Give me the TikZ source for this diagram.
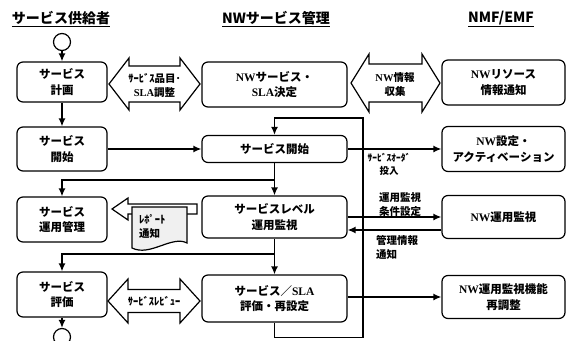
\documentclass[tikz,border=0pt]{standalone}
\usepackage{fontspec}
\setmainfont{Noto Sans CJK JP}
\newfontfamily\enfont{Liberation Serif}
\newcommand{\en}[1]{{\enfont #1}}
\usetikzlibrary{arrows.meta}

\tikzset{
  proc/.style={draw, rounded corners=6pt, line width=1.2pt, fill=white, align=center,
    inner sep=0pt, font=\bfseries\fontsize{11.5}{15.5}\selectfont},
  lbox/.style={proc, minimum width=90pt},
  mbox/.style={proc, minimum width=145pt},
  rbox/.style={proc, minimum width=123pt},
  flow/.style={->, line width=1.5pt},
  fat/.style={draw, line width=1.2pt, fill=white, line join=miter},
  lbl/.style={font=\bfseries\fontsize{10.5}{14}\selectfont, align=center, inner sep=0pt},
  coltitle/.style={font=\bfseries\fontsize{14}{16}\selectfont, inner sep=0pt},
  term/.style={circle, draw, line width=1.2pt, minimum size=17pt, inner sep=0pt}
}

\begin{document}
\begin{tikzpicture}[x=1pt,y=-1pt,>={Latex[length=8pt,width=7pt]}]
  \useasboundingbox (0,0) rectangle (567,340);

  % column titles
  \node[coltitle] (tsup) at (61,19) {\underline{サービス供給者}};
  \node[coltitle] (tmgr) at (276,19) {\underline{NWサービス管理}};
  \node[coltitle] (tnmf) at (501,19) {\underline{NMF/EMF}};

  % service provider
  \node[term] (startc) at (62,42) {};
  \node[lbox, minimum height=40pt] (plan) at (62,82) {サービス\\計画};
  \node[lbox, minimum height=44pt] (begin) at (62,149) {サービス\\開始};
  \node[lbox, minimum height=45pt] (ops) at (62,219.5) {サービス\\運用管理};
  \node[lbox, minimum height=45pt] (eval) at (62,294.5) {サービス\\評価};
  \node[term] (endc) at (62,337) {};

  % nw service management
  \node[mbox, minimum height=45pt] (m1) at (274.5,84.5) {\en{NW}サービス・\\\en{SLA}決定};
  \node[mbox, minimum height=27pt] (m2) at (274.5,149) {サービス開始};
  \node[mbox, minimum height=42pt] (m3) at (274.5,217) {サービスレベル\\運用監視};
  \node[mbox, minimum height=47pt] (m4) at (274.5,298.5) {サービス／\en{SLA}\\評価・再設定};

  % nmf/emf
  \node[rbox, minimum height=45pt] (r1) at (503.5,82.5) {\en{NW}リソース\\情報通知};
  \node[rbox, minimum height=45pt] (r2) at (503.5,149) {\en{NW}設定・\\アクティベーション};
  \node[rbox, minimum height=43pt] (r3) at (503.5,217) {\en{NW}運用監視};
  \node[rbox, minimum height=43pt] (r4) at (503.5,297) {\en{NW}運用監視機能\\再調整};

  % fat double arrows
  \draw[fat] (109,84) -- (129,58) -- (129,66) -- (180,66) -- (180,58) -- (200,84)
    -- (180,110) -- (180,102) -- (129,102) -- (129,110) -- cycle;
  \node[lbl] (adj) at (154.5,85) {ｻｰﾋﾞｽ品目･\\\en{SLA}調整};
  \draw[fat] (351,83) -- (369,54) -- (369,64) -- (422,64) -- (422,54) -- (440,83)
    -- (422,112) -- (422,102) -- (369,102) -- (369,112) -- cycle;
  \node[lbl] (collect) at (395,85) {\en{NW}情報\\収集};
  \draw[fat] (108,301) -- (128,279) -- (128,289.5) -- (180,289.5) -- (180,279) -- (200,301)
    -- (180,323) -- (180,312.5) -- (128,312.5) -- (128,323) -- cycle;
  \node[lbl] (review) at (154,301) {ｻｰﾋﾞｽﾚﾋﾞｭｰ};

  % report
  \draw[fat] (112,209) -- (128,198) -- (128,204) -- (197,204) -- (197,214) -- (128,214)
    -- (128,220) -- cycle;
  \draw[line width=1.2pt, fill=gray!12] (132,207) -- (187,207) -- (187,243)
    .. controls (172,235) and (150,257) .. (132,248) -- cycle;
  \node[lbl, align=left, anchor=west] (report) at (139,226) {ﾚﾎﾟｰﾄ\\通知};

  % main flow
  \draw[flow] (startc) -- (plan);
  \draw[flow] (plan) -- (begin);
  \draw[flow] (begin) -- (m2);
  \draw[flow] (m2) -- (m3);
  \draw[flow] (m3) -- (m4);
  \draw[flow] (eval) -- (endc);
  \coordinate (b1) at (274.5,180);
  \coordinate (b2) at (274.5,254);
  \draw[flow] (b1) -| (ops);
  \draw[flow] (b2) -| (eval);

  % feedback loop
  \coordinate (loop) at (363,118);
  \draw[flow] (m4.south) -- ++(0,15) -| (loop) -| (m2.north);

  % to nmf/emf
  \draw[flow] (m2) -- (r2);
  \draw[flow] (m3) -- (r3);
  \draw[flow] ([yshift=-13pt]r3.west) -- ([yshift=-13pt]m3.east);
  \draw[flow] (m4.east |- r4) -- (r4);
  \node[lbl, font=\bfseries\fontsize{9.5}{13}\selectfont] (order) at (389,164) {ｻｰﾋﾞｽｵｰﾀﾞ\\投入};
  \node[lbl] (cond) at (400,205) {運用監視\\条件設定};
  \node[lbl, align=left, anchor=west] (mgmt) at (376,247) {管理情報\\通知};
\end{tikzpicture}
\end{document}
